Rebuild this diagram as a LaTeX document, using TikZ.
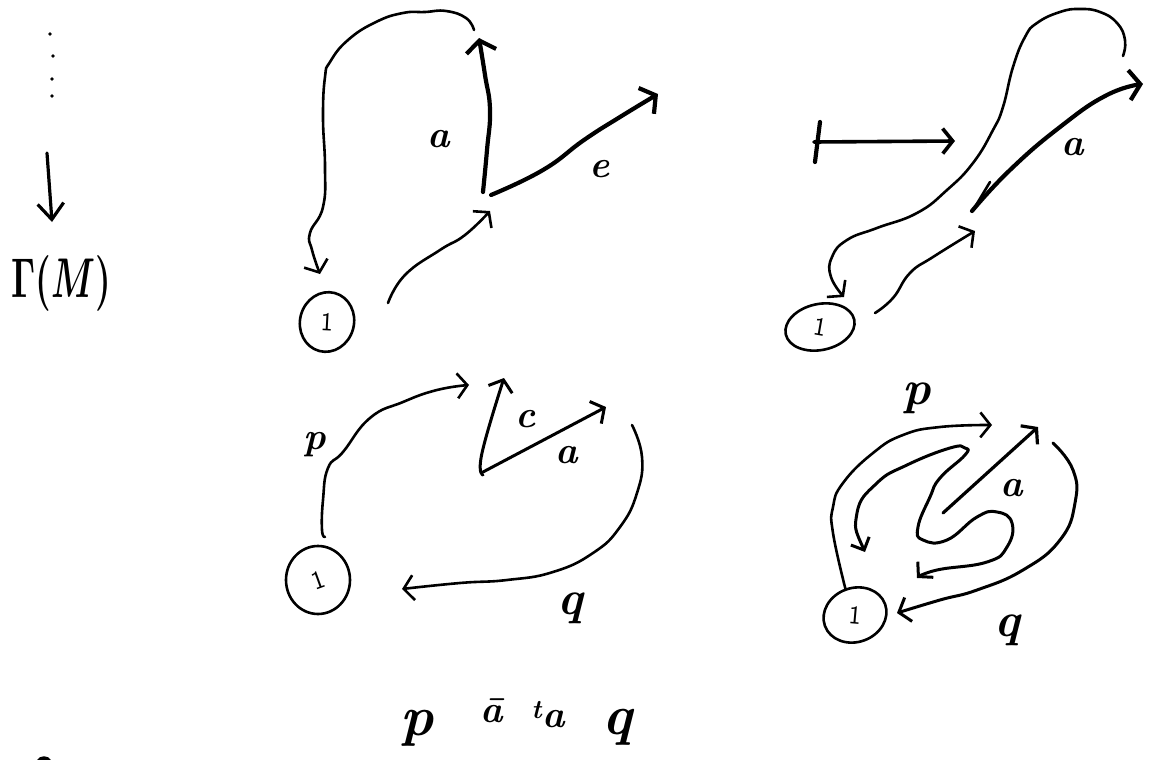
\documentclass[tikz,border=0pt]{standalone}
\usepackage{amsmath}
\usepackage{graphicx}
\usetikzlibrary{arrows.meta,shapes.geometric}
\tikzset{
  pen/.style={line width=2.6pt, line cap=round, line join=round},
  heavypen/.style={line width=4.2pt, line cap=round, line join=round},
  flow/.style={pen, -{Straight Barb[length=10pt,width=25pt]}},
  heavyflow/.style={heavypen, -{Straight Barb[length=11pt,width=30pt]}},
  basepoint/.style={ellipse, draw, pen, inner sep=0pt, font=\fontsize{26}{26}\selectfont\sffamily},
  handlabel/.style={inner sep=0pt, font=\fontsize{38}{38}\selectfont\bfseries\itshape},
  handtall/.style={inner sep=0pt, font=\fontsize{48}{48}\selectfont\bfseries\itshape},
  handword/.style={inner sep=0pt, font=\fontsize{56}{56}\selectfont\bfseries\itshape}
}
\begin{document}
\begin{tikzpicture}[x=1pt,y=-1pt]
\useasboundingbox (0,0) rectangle (1160,760);

% column on the left
\foreach \px/\py in {50/34,53/56,52/79,52/96}
  \fill (\px,\py) circle (1.8pt);
\coordinate (dotsend) at (47,153);
\coordinate (gammatop) at (52,222);
\draw[pen, line width=3.2pt, -{Straight Barb[length=16pt,width=26pt]}] (dotsend) -- (gammatop);
\node[inner sep=0pt, xscale=3.5, yscale=5.6] (gamma) at (61,283) {\mbox{\boldmath$\Gamma(M)$}};
\fill (37,760) .. controls (40,755) and (48,755) .. (51,760) -- cycle;

% top left
\node[basepoint, minimum width=54pt, minimum height=60pt, rotate=-15] (onea) at (327,322) {\rotatebox{12}{1}};
\coordinate (aloopstart) at (474,30);
\coordinate (ainstart) at (388,303);
\coordinate (ainend) at (490,211);
\coordinate (afoot) at (483,192);
\coordinate (atip) at (479,38);
\coordinate (efoot) at (491,195);
\coordinate (etip) at (658,94);
\coordinate (aloopend) at (320,274);
\draw[flow] plot[smooth,tension=.8] coordinates {(aloopstart) (466,18) (446,11) (425,12) (403,13) (376,22) (348,40) (330,62) (325,77) (323,117) (325,167) (323,207) (310,233) (312,250) (aloopend)};
\draw[flow] plot[smooth,tension=.8] coordinates {(ainstart) (405,275) (440,250) (465,235) (ainend)};
\draw[heavyflow] plot[smooth,tension=.8] coordinates {(afoot) (487,150) (490,110) (485,75) (atip)};
\draw[heavyflow] plot[smooth,tension=.8] coordinates {(efoot) (543,170) (584,140) (620,117) (etip)};
\node[handlabel] (alabel) at (439,139) {a};
\node[handlabel] (elabel) at (600,169) {e};

% top right
\node[basepoint, minimum width=70pt, minimum height=46pt, rotate=12] (oneb) at (820,327) {\rotatebox{-22}{1}};
\coordinate (barstart) at (814,142);
\coordinate (barend) at (955,141);
\draw[flow, line width=3.6pt] (barstart) -- (barend);
\coordinate (bartop) at (820,122);
\coordinate (barbot) at (815,162);
\draw[heavypen] (bartop) -- (barbot);
\coordinate (bloopstart) at (1123,56);
\coordinate (bloopend) at (844,297);
\draw[flow] plot[smooth,tension=.8] coordinates {(bloopstart) (1125,40) (1117,23) (1100,12) (1080,9) (1060,12) (1037,23) (1025,37) (1013,67) (1003,107) (993,130) (973,163) (947,190) (917,213) (877,228) (847,240) (832,257) (831,277) (bloopend)};
\coordinate (binstart) at (875,313);
\coordinate (binend) at (975,231);
\draw[flow] plot[smooth,tension=.8] coordinates {(binstart) (893,298) (910,273) (933,257) (binend)};
\coordinate (bfoot) at (972,211);
\coordinate (btip) at (1143,84);
\draw[heavyflow] plot[smooth,tension=.8] coordinates {(bfoot) (1010,170) (1060,127) (1107,95) (btip)};
\coordinate (sliverup) at (990,182);
\coordinate (sliverdown) at (975,207);
\draw[pen] (sliverup) -- (sliverdown);
\node[handlabel] (blabel) at (1073,147) {a};

% bottom left
\node[basepoint, minimum width=64pt, minimum height=68pt] (onec) at (318,580) {\rotatebox{20}{1}};
\coordinate (pstart) at (325,537);
\coordinate (pend) at (469,385);
\draw[flow] plot[smooth,tension=.8] coordinates {(pstart) (322,530) (323,500) (328,468) (343,452) (370,418) (403,402) (437,390) (pend)};
\coordinate (cfoot) at (483,475);
\coordinate (ctip) at (504,378);
\draw[flow, line width=3pt] plot[smooth,tension=.8] coordinates {(cfoot) (482,453) (ctip)};
\coordinate (cafoot) at (483,472);
\coordinate (catip) at (606,407);
\draw[flow, line width=3pt] (cafoot) -- (catip);
\coordinate (qstart) at (632,425);
\coordinate (qend) at (402,589);
\draw[flow] plot[smooth,tension=.8] coordinates {(qstart) (642,457) (637,493) (620,527) (593,553) (553,572) (507,580) (460,583) (qend)};
\node[handlabel] (plabelc) at (315,445) {p};
\node[handlabel] (clabel) at (526,419) {c};
\node[handlabel] (calabel) at (567,455) {a};
\node[handtall] (qlabelc) at (570,608) {q};

% bottom right
\node[basepoint, minimum width=64pt, minimum height=54pt, rotate=20] (oned) at (855,615) {\rotatebox{-25}{1}};
\coordinate (dpend) at (992,425);
\draw[flow] plot[smooth,tension=.8] coordinates {(oned.north) (833,533) (833,507) (843,483) (873,453) (903,435) (940,427) (dpend)};
\coordinate (winda) at (865,552);
\coordinate (windb) at (917,578);
\draw[pen, line width=3pt, {Straight Barb[length=10pt,width=20pt]}-{Straight Barb[length=10pt,width=22pt]}] plot[smooth,tension=.8] coordinates {(winda) (857,513) (877,483) (907,465) (950,448) (965,448) (965,455) (940,478) (930,497) (918,527) (923,540) (947,540) (977,517) (997,512) (1012,523) (1007,547) (987,562) (937,570) (windb)};
\coordinate (dfoot) at (943,513);
\coordinate (dtip) at (1038,427);
\draw[flow, line width=3.2pt] (dfoot) -- (dtip);
\coordinate (dqstart) at (1053,443);
\coordinate (dqend) at (897,613);
\draw[flow, line width=3pt] plot[smooth,tension=.8] coordinates {(dqstart) (1073,470) (1075,503) (1060,540) (1023,570) (977,590) (940,600) (dqend)};
\node[handtall] (plabeld) at (917,398) {p};
\node[handlabel] (dalabel) at (1012,488) {a};
\node[handtall] (qlabeld) at (1007,630) {q};

% word along the bottom
\node[handword] (wordp) at (417,728) {p};
\node[handlabel] (wordbar) at (492,711) {\=a};
\node[handlabel] (wordta) at (548,715) {\textsuperscript{t}a};
\node[handword] (wordq) at (617,727) {q};
\end{tikzpicture}
\end{document}
